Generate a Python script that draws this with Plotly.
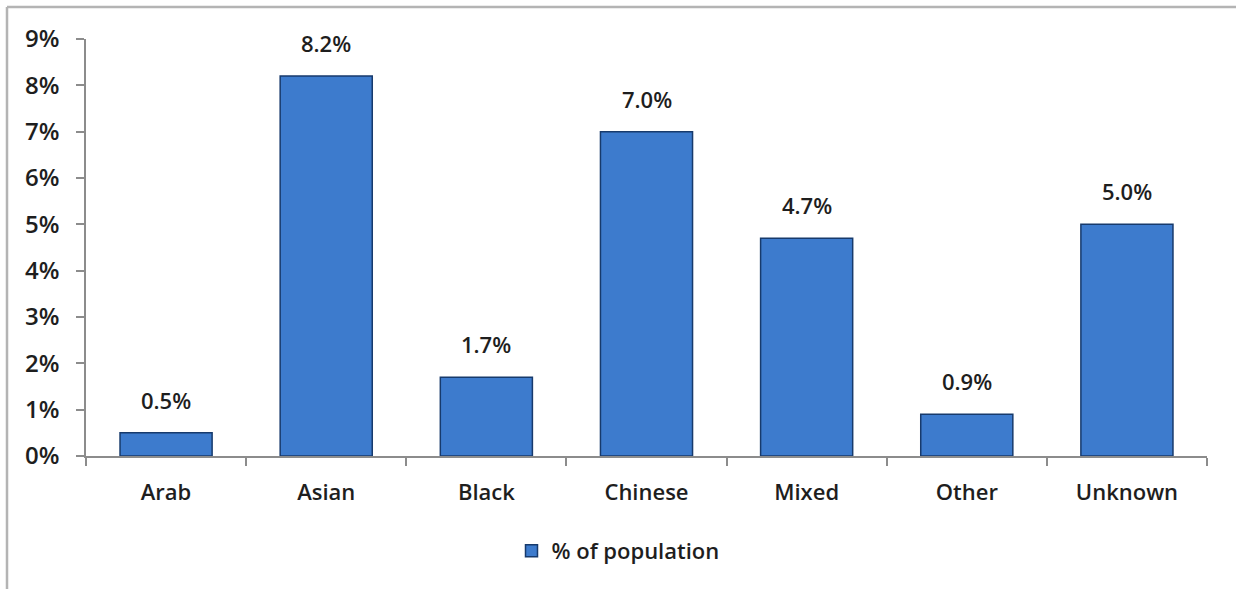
import plotly.graph_objects as go

categories = ["Arab", "Asian", "Black", "Chinese", "Mixed", "Other", "Unknown"]
values = [0.5, 8.2, 1.7, 7.0, 4.7, 0.9, 5.0]
labels = ["0.5%", "8.2%", "1.7%", "7.0%", "4.7%", "0.9%", "5.0%"]
tick_vals = [0, 1, 2, 3, 4, 5, 6, 7, 8, 9]
tick_text = ["0%", "1%", "2%", "3%", "4%", "5%", "6%", "7%", "8%", "9%"]
series_name = "% of population"

W, H = 1236, 589
L, R, T, B = 86, 29, 39, 133
pw, ph = W - L - R, H - T - B

def px_x(p):
    return (p - L) / pw

def px_y(p):
    return 1 - (p - T) / ph

FONT = "Open Sans"
TXT = "#1e1e1e"

fig = go.Figure()
fig.add_trace(go.Bar(
    x=categories, y=values, name=series_name,
    marker=dict(color="#3d7bcd", line=dict(color="#173a6c", width=1.5)),
    width=0.575,
))

for c, v, t in zip(categories, values, labels):
    fig.add_annotation(x=c, y=v, text=t, showarrow=False, yanchor="bottom",
                       yshift=16, font=dict(family=FONT, size=22, color=TXT, weight=600))

fig.update_layout(
    width=W, height=H,
    margin=dict(l=L, r=R, t=T, b=B),
    paper_bgcolor="white", plot_bgcolor="white",
    showlegend=True,
    legend=dict(orientation="h", x=px_x(618), xanchor="center", y=px_y(551), yanchor="middle",
                font=dict(family=FONT, size=22, color=TXT, weight=600)),
    font=dict(family=FONT, size=22, color=TXT),
    xaxis=dict(showline=True, linecolor="#8c8c8c", linewidth=1.5, ticks="outside",
               tickson="boundaries", ticklen=8, tickcolor="#8c8c8c", tickwidth=1.5,
               ticklabelstandoff=16,
               tickfont=dict(family=FONT, size=22, color=TXT, weight=600),
               showgrid=False),
    yaxis=dict(range=[0, 9], tickvals=tick_vals, ticktext=tick_text,
               showline=True, linecolor="#8c8c8c", linewidth=1.5, ticks="outside",
               ticklen=8, tickcolor="#8c8c8c", tickwidth=1.5, showgrid=False, zeroline=False,
               ticklabelstandoff=12,
               tickfont=dict(family=FONT, size=24, color=TXT, weight=600)),
    shapes=[
        dict(type="line", xref="paper", yref="paper", x0=px_x(7), x1=px_x(W),
             y0=px_y(7), y1=px_y(7), line=dict(color="#b4b4b4", width=2.5)),
        dict(type="line", xref="paper", yref="paper", x0=px_x(7), x1=px_x(7),
             y0=px_y(7), y1=px_y(H), line=dict(color="#b4b4b4", width=2.5)),
    ],
)

fig.write_html("out.html")
